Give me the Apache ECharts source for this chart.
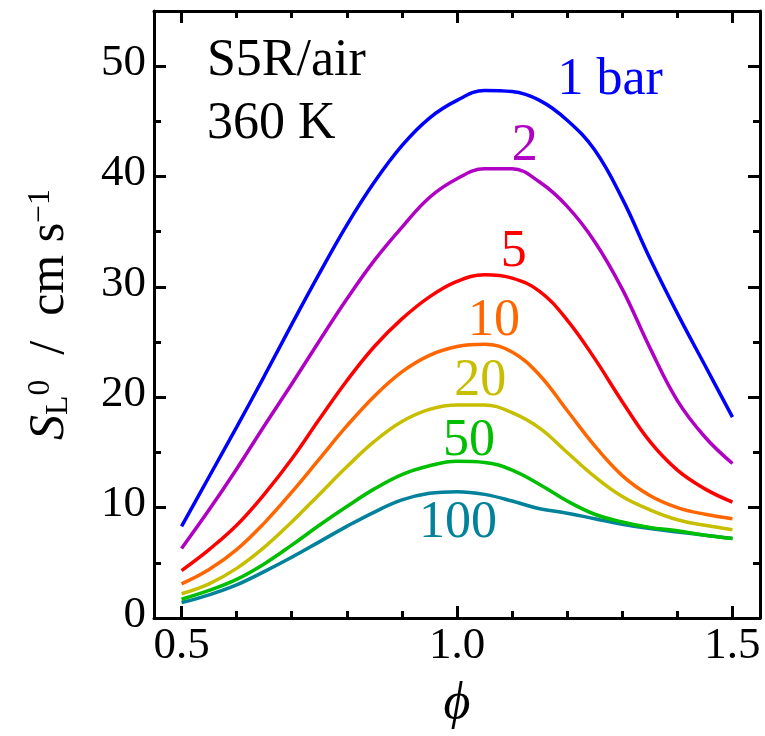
<!DOCTYPE html>
<html>
<head>
<meta charset="utf-8">
<script src="https://cdn.jsdelivr.net/npm/echarts@6/dist/echarts.min.js"></script>
<style>html,body{margin:0;padding:0;background:#fff;}#chart{width:765px;height:736px;}</style>
</head>
<body>
<div id="chart"></div>
<script>
// ---- data ----
const phi = [0.50,0.55,0.60,0.65,0.70,0.75,0.80,0.85,0.90,0.95,1.00,1.05,1.10,1.15,1.20,1.25,1.30,1.35,1.40,1.45,1.50];
const s1bar   = [8.3,12.8,17.3,21.9,26.6,31.2,35.6,39.5,42.8,45.3,46.9,47.8,47.7,46.9,45.1,42.4,38.0,32.6,27.6,22.9,18.2];
const s2bar   = [6.3,9.8,13.5,17.4,21.2,25.1,28.9,32.4,35.4,38.1,39.8,40.7,40.7,39.5,37.3,34.1,29.8,24.5,19.7,16.4,14.0];
const s5bar   = [4.3,6.2,8.4,11.2,14.4,18.0,21.5,24.6,27.1,29.1,30.5,31.1,30.8,29.6,27.0,23.5,19.6,16.0,13.4,11.7,10.5];
const s10bar  = [3.1,4.4,6.2,8.6,11.4,14.4,17.4,20.1,22.3,23.8,24.6,24.8,24.1,22.0,18.8,15.6,12.9,11.1,10.0,9.4,9.0];
const s20bar  = [2.2,3.1,4.5,6.4,8.7,11.2,13.7,16.0,17.8,18.9,19.3,19.3,18.6,17.2,15.0,12.8,11.0,9.8,8.9,8.4,8.0];
const s50bar  = [1.7,2.5,3.5,4.9,6.6,8.4,10.1,11.7,13.0,13.8,14.2,14.1,13.4,12.1,10.6,9.4,8.7,8.2,7.9,7.5,7.2];
const s100bar = [1.4,2.1,3.0,4.2,5.5,6.9,8.3,9.6,10.7,11.3,11.45,11.2,10.6,9.9,9.5,9.0,8.5,8.1,7.8,7.5,7.2];
const seriesValues = [s1bar, s2bar, s5bar, s10bar, s20bar, s50bar, s100bar];
const seriesLabels = ['1 bar','2','5','10','20','50','100'];
const xMajorTicks = [0.5, 1.0, 1.5];
const xMinorTicks = [0.6, 0.7, 0.8, 0.9, 1.1, 1.2, 1.3, 1.4];
const yMajorTicks = [0, 10, 20, 30, 40, 50];
const yMinorTicks = [5, 15, 25, 35, 45];
const annotations = ['S5R/air', '360 K'];

// ---- layout / style (not data) ----
const colors = ['#0000FF','#B000C4','#FF0000','#FF6600','#C8BE00','#00BE00','#00829A'];
const labelAnchors = [[1.278,48.75],[1.123,42.77],[1.103,33.16],[1.067,26.91],[1.042,21.48],[1.022,16.04],[1.002,8.61]];
const annotationAnchors = [[0.546,50.4],[0.546,44.7]];
const X_MIN = 0.45, X_MAX = 1.55, Y_MIN = 0, Y_MAX = 55;
// text is drawn at a base size of 30px and scaled up to the wanted size
const BASE = 30;
const serif = (size, italic) => (italic ? 'italic ' : '') + size + "px 'Liberation Serif'";

function xAxisDef(pos, ticks, len, showLine) {
  return {
    type: 'value', position: pos, min: X_MIN, max: X_MAX,
    axisLine: { show: showLine, onZero: false, lineStyle: { color: '#000', width: 3 } },
    axisTick: { show: true, inside: true, length: len, customValues: ticks, lineStyle: { color: '#000', width: 3 } },
    axisLabel: { show: false },
    splitLine: { show: false }
  };
}
function yAxisDef(pos, ticks, len, showLine) {
  return {
    type: 'value', position: pos, min: Y_MIN, max: Y_MAX,
    axisLine: { show: showLine, onZero: false, lineStyle: { color: '#000', width: 3 } },
    axisTick: { show: true, inside: true, length: len, customValues: ticks, lineStyle: { color: '#000', width: 3 } },
    axisLabel: { show: false },
    splitLine: { show: false }
  };
}

const series = seriesValues.map((vals, k) => ({
  type: 'line', name: seriesLabels[k],
  data: phi.map((x, i) => [x, vals[i]]),
  xAxisIndex: 0, yAxisIndex: 0,
  showSymbol: false, symbol: 'none', smooth: 0.4,
  lineStyle: { color: colors[k], width: 3.5 },
  z: 10 - k
}));

const chart = echarts.init(document.getElementById('chart'));
chart.setOption({
  animation: false,
  grid: { left: 154, right: 5, top: 11, bottom: 118 },
  xAxis: [
    xAxisDef('bottom', xMajorTicks, 12, true),
    xAxisDef('bottom', xMinorTicks, 7, false),
    xAxisDef('top', xMajorTicks, 12, true),
    xAxisDef('top', xMinorTicks, 7, false)
  ],
  yAxis: [
    yAxisDef('left', yMajorTicks, 12, true),
    yAxisDef('left', yMinorTicks, 7, false),
    yAxisDef('right', yMajorTicks, 12, true),
    yAxisDef('right', yMinorTicks, 7, false)
  ],
  series: series
});

// ---- all text drawn through the chart's own scales ----
const toPx = (x, y) => chart.convertToPixel({ seriesIndex: 0 }, [x, y]);
function txt(x, y, text, size, fill, align, vAlign, italic) {
  const s = size / BASE;
  return { type: 'text', silent: true, x: x, y: y, scaleX: s, scaleY: s, z: 20,
    style: { text: text, font: serif(BASE, italic), fill: fill, align: align, verticalAlign: vAlign } };
}
const g = [];
xMajorTicks.forEach(v => {
  const p = toPx(v, Y_MIN);
  g.push(txt(p[0], p[1] + 6, v.toFixed(1), 45, '#000', 'center', 'top'));
});
yMajorTicks.forEach(v => {
  const p = toPx(X_MIN, v);
  g.push(txt(p[0] - 8, p[1] - 3, String(v), 45, '#000', 'right', 'middle'));
});
seriesLabels.forEach((t, k) => {
  const p = toPx(labelAnchors[k][0], labelAnchors[k][1]);
  g.push(txt(p[0], p[1], t, 52, colors[k], 'center', 'middle'));
});
annotations.forEach((t, i) => {
  const p = toPx(annotationAnchors[i][0], annotationAnchors[i][1]);
  g.push(txt(p[0], p[1], t, 52, '#000', 'left', 'middle'));
});
// x-axis title
const pMid = toPx((X_MIN + X_MAX) / 2, Y_MIN);
g.push(txt(pMid[0], pMid[1] + 60, 'ϕ', 52, '#000', 'center', 'top', true));
// y-axis title (rotated, with sub/superscripts)
const pBot = toPx(X_MIN, Y_MIN), pTop = toPx(X_MIN, Y_MAX);
const ys = 50 / BASE;
g.push({ type: 'text', silent: true, x: pBot[0] - 79, y: (pBot[1] + pTop[1]) / 2,
  rotation: Math.PI / 2, scaleX: ys, scaleY: ys,
  style: {
    text: '{i|S}{sub|L}{sup|0}{n|  /  cm s}{sup|−1}',
    fill: '#000', align: 'center', verticalAlign: 'bottom',
    rich: {
      i:   { font: serif(30, true), lineHeight: 30, verticalAlign: 'bottom', fill: '#000' },
      n:   { font: serif(30), lineHeight: 30, verticalAlign: 'bottom', fill: '#000' },
      sub: { font: serif(19), lineHeight: 19, verticalAlign: 'bottom', fill: '#000' },
      sup: { font: serif(19), lineHeight: 19, padding: [0, 0, 19, 0], verticalAlign: 'top', fill: '#000' }
    }
  } });
chart.setOption({ graphic: g });
</script>
</body>
</html>
